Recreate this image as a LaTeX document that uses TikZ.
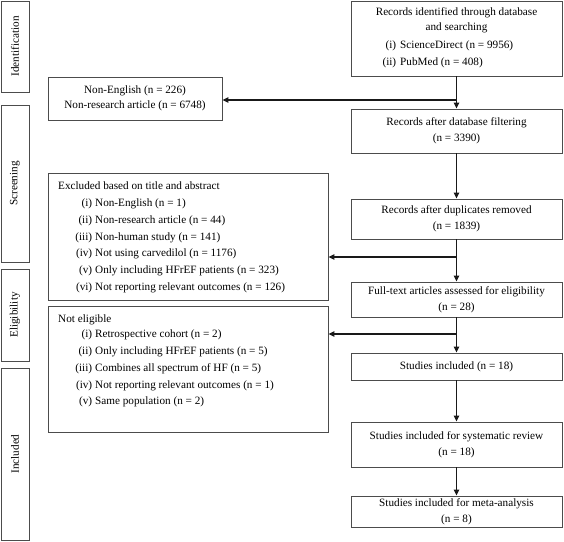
\documentclass[tikz,border=0pt]{standalone}
\usepackage{fontspec}
\setmainfont{Liberation Serif}
\usetikzlibrary{arrows.meta}
\newcommand{\lab}[1]{\makebox[34pt][r]{#1}\hspace{3pt}}
\newcommand{\labb}[1]{\makebox[21pt][r]{#1}\hspace{4pt}}
\begin{document}
\begin{tikzpicture}[x=1pt,y=-1pt,
  fnt/.style={font=\fontsize{11.2}{13.5}\selectfont},
  box/.style={draw=black!70, line width=0.9pt, inner sep=0pt, align=center, fnt},
  rbox/.style={box, minimum width=211pt},
  side/.style={box, rotate=90, minimum height=28pt},
  txt/.style={inner sep=0pt, fnt},
  arr/.style={draw=black!90, line width=1.3pt, -{Triangle[length=6pt,width=5.5pt]}}]
\useasboundingbox (0,0) rectangle (564,541);
% side bars
\node[side, minimum width=91pt]  (sid)  at (15,46.5) {Identification};
\node[side, minimum width=157pt] (sscr) at (15,183.5) {Screening};
\node[side, minimum width=92pt]  (sel)  at (15,315) {Eligibility};
\node[side, minimum width=172pt] (sinc) at (15,454) {Included};
% right column
\node[rbox, minimum height=75pt] (id1) at (456.5,38.5) {};
\node[txt, align=center] (id1t) at (456.5,20.5) {Records identified through database\\[1.5pt]and searching};
\node[txt, anchor=north west] (id1l) at (375,39) {\begin{tabular}{@{}l@{}}
\labb{(i)}ScienceDirect (n = 9956)\\[3.5pt]
\labb{(ii)}PubMed (n = 408)
\end{tabular}};
\node[rbox, minimum height=44pt] (b2) at (456.5,131) {Records after database filtering\\[2.5pt](n = 3390)};
\node[rbox, minimum height=40pt] (b3) at (456.5,219) {Records after duplicates removed\\[2.5pt](n = 1839)};
\node[rbox, minimum height=35pt] (b4) at (456.5,299.5) {Full-text articles assessed for eligibility\\[2.5pt](n = 28)};
\node[rbox, minimum height=27pt] (b5) at (456.5,366.5) {Studies included (n = 18)};
\node[rbox, minimum height=45pt] (b6) at (456.5,444.5) {Studies included for systematic review\\[2.5pt](n = 18)};
\node[rbox, minimum height=31pt] (b7) at (456.5,511.5) {Studies included for meta-analysis\\[2.5pt](n = 8)};
% left column
\node[box, minimum width=174pt, minimum height=43pt] (ne) at (135,98.5) {Non-English (n = 226)\\[1.5pt]Non-research article (n = 6748)};
\node[box, minimum width=280pt, minimum height=127pt] (ex) at (188,236.5) {};
\node[txt, anchor=north west] (ext) at (58,180) {\begin{tabular}{@{}l@{}}
Excluded based on title and abstract\\[3.5pt]
\lab{(i)}Non-English (n = 1)\\[3.2pt]
\lab{(ii)}Non-research article (n = 44)\\[3.2pt]
\lab{(iii)}Non-human study (n = 141)\\[3.2pt]
\lab{(iv)}Not using carvedilol (n = 1176)\\[3.2pt]
\lab{(v)}Only including HFrEF patients (n = 323)\\[3.2pt]
\lab{(vi)}Not reporting relevant outcomes (n = 126)
\end{tabular}};
\node[box, minimum width=280pt, minimum height=126pt] (nel) at (188,369) {};
\node[txt, anchor=north west] (nelt) at (58,313) {\begin{tabular}{@{}l@{}}
Not eligible\\[1.8pt]
\lab{(i)}Retrospective cohort (n = 2)\\[3.2pt]
\lab{(ii)}Only including HFrEF patients (n = 5)\\[3.2pt]
\lab{(iii)}Combines all spectrum of HF (n = 5)\\[3.2pt]
\lab{(iv)}Not reporting relevant outcomes (n = 1)\\[3.2pt]
\lab{(v)}Same population (n = 2)
\end{tabular}};
% connectors
\coordinate (j1) at (456.5,100);
\coordinate (j2) at (456.5,257);
\coordinate (j3) at (456.5,334);
\draw[arr] (id1) -- (b2);
\draw[arr] (j1) -- (j1 -| ne.east);
\draw[arr] (b2) -- (b3);
\draw[arr] (b3) -- (b4);
\draw[arr] (j2) -- (j2 -| ex.east);
\draw[arr] (b4) -- (b5);
\draw[arr] (j3) -- (j3 -| nel.east);
\draw[arr] (b5) -- (b6);
\draw[arr] (b6) -- (b7);
\end{tikzpicture}
\end{document}
